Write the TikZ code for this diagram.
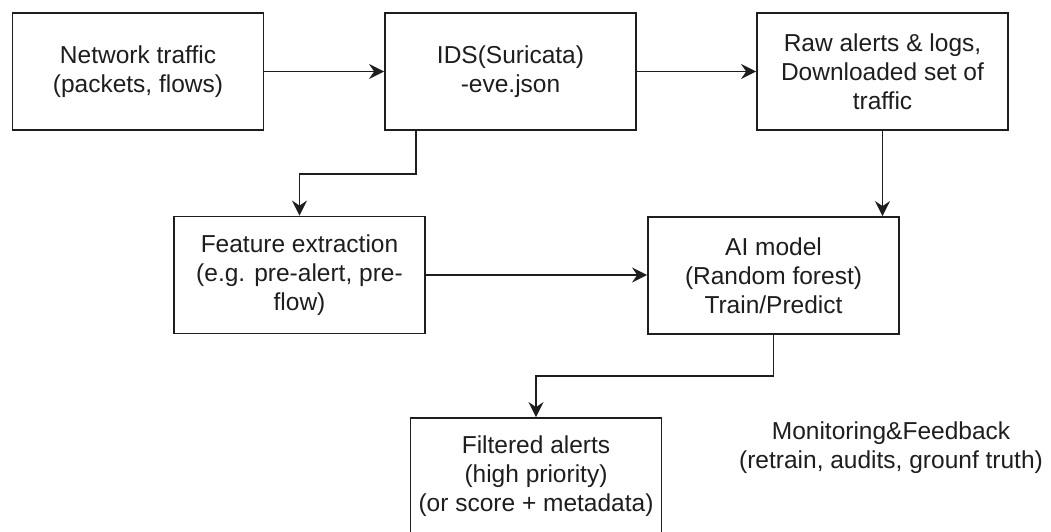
\documentclass[tikz,border=0pt]{standalone}
\usepackage{fontspec}
\setmainfont{Liberation Sans}
\usetikzlibrary{arrows.meta}
\definecolor{ink}{HTML}{1E1E1E}
\begin{document}
\begin{tikzpicture}[x=1pt,y=-1pt,
  box/.style={draw=ink,line width=1.8pt,rectangle,minimum width=251pt,minimum height=117pt,
    inner sep=0pt,align=center,font=\fontsize{24.5}{29}\selectfont,text=ink},
  arr/.style={draw=ink,line width=1.6pt,-{Stealth[length=15pt,width=15pt,inset=5pt]}},
  lbl/.style={align=center,font=\fontsize{24.5}{29}\selectfont,text=ink,inner sep=0pt}]
\clip (0,0) rectangle (1051,532);
\fill[white] (0,0) rectangle (1051,532);
\node[box] (b1) at (138,71.5) {Network traffic\\(packets, flows)};
\node[box] (b2) at (510.5,71.5) {IDS(Suricata)\\-eve.json};
\node[box] (b3) at (882.5,71.5) {Raw alerts \& logs,\\Downloaded set of\\traffic};
\node[box] (b4) at (299.5,275) {Feature extraction\\(e.g. pre-alert, pre-\\flow)};
\node[box] (b5) at (773.5,275.5) {AI model\\(Random forest)\\Train/Predict};
\node[box] (b6) at (536,476.5) {Filtered alerts\\(high priority)\\(or score + metadata)};
\node[lbl] (mon) at (891,448) {Monitoring\&Feedback\\(retrain, audits, grounf truth)};
\draw[arr] (b1.east) -- (b2.west);
\draw[arr] (b2.east) -- (b3.west);
\draw[arr] ([xshift=32pt]b2.south west) -- ++(0,43) -| (b4.north);
\draw[arr] (b4.east) -- (b4.east -| b5.west);
\draw[arr] (b3.south) -- (b3.south |- b5.north);
\draw[arr] (b5.south) -- ++(0,41) -| (b6.north);
\end{tikzpicture}
\end{document}
